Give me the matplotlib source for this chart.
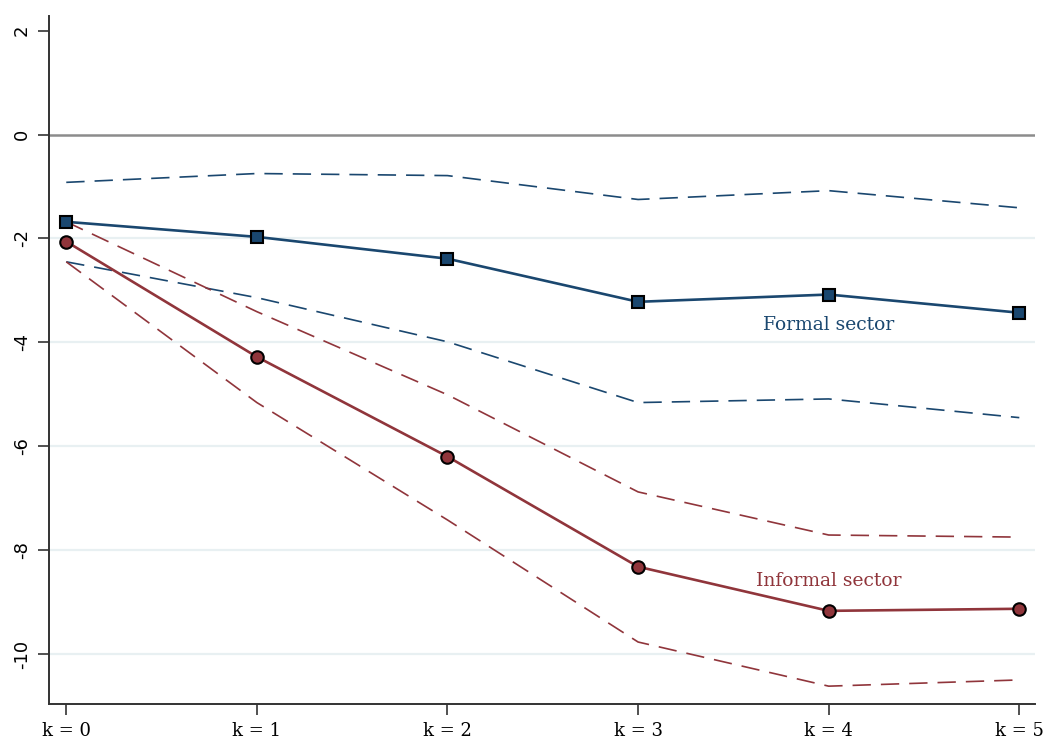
import numpy as np
import matplotlib.pyplot as plt

# horizons and point estimates
horizons = [0, 1, 2, 3, 4, 5]
tick_labels = ['k = 0', 'k = 1', 'k = 2', 'k = 3', 'k = 4', 'k = 5']

formal = [-1.68, -1.97, -2.39, -3.22, -3.08, -3.43]
formal_hi = [-0.92, -0.75, -0.79, -1.25, -1.08, -1.41]
formal_lo = [-2.45, -3.14, -3.99, -5.16, -5.09, -5.45]

informal = [-2.06, -4.28, -6.20, -8.32, -9.17, -9.13]
informal_hi = [-1.68, -3.41, -5.01, -6.88, -7.71, -7.75]
informal_lo = [-2.45, -5.16, -7.42, -9.77, -10.62, -10.50]

navy = '#1a476f'
maroon = '#90353b'
dash = (0, (11, 6))

fig = plt.figure(figsize=(10.45, 7.44), dpi=100)
ax = fig.add_axes([0.047, 0.054, 0.943, 0.925])

for y in [-2, -4, -6, -8, -10]:
    ax.axhline(y, color='#e8f0f2', lw=1.6, zorder=0)
ax.axhline(0, color='#8c8c8c', lw=1.8, zorder=1)

ax.plot(horizons, formal_hi, color=navy, lw=1.2, linestyle=dash, zorder=2)
ax.plot(horizons, formal_lo, color=navy, lw=1.2, linestyle=dash, zorder=2)
ax.plot(horizons, informal_hi, color=maroon, lw=1.2, linestyle=dash, zorder=2)
ax.plot(horizons, informal_lo, color=maroon, lw=1.2, linestyle=dash, zorder=2)

ax.plot(horizons, formal, color=navy, lw=1.9, marker='s', markersize=8.5,
        markerfacecolor=navy, markeredgecolor='black', markeredgewidth=1.5, zorder=3)
ax.plot(horizons, informal, color=maroon, lw=1.9, marker='o', markersize=9,
        markerfacecolor=maroon, markeredgecolor='black', markeredgewidth=1.5, zorder=3)

ax.text(4.0, -3.66, 'Formal sector', color=navy, fontsize=13.5,
        family='DejaVu Serif', ha='center', va='center')
ax.text(4.0, -8.59, 'Informal sector', color=maroon, fontsize=13.5,
        family='DejaVu Serif', ha='center', va='center')

ax.set_xlim(-0.09, 5.08)
ax.set_ylim(-10.96, 2.29)
ax.set_xticks(horizons)
ax.set_xticklabels(tick_labels, family='DejaVu Serif', fontsize=13)
ax.set_yticks([2, 0, -2, -4, -6, -8, -10])
ax.set_yticklabels(['2', '0', '-2', '-4', '-6', '-8', '-10'], rotation=90,
                   va='center', fontsize=13)
ax.tick_params(direction='out', length=8, width=1.2, color='#333333', pad=5)
for side in ['top', 'right']:
    ax.spines[side].set_visible(False)
for side in ['left', 'bottom']:
    ax.spines[side].set_linewidth(1.4)
    ax.spines[side].set_color('#333333')

fig.savefig('out.png', dpi=100)
